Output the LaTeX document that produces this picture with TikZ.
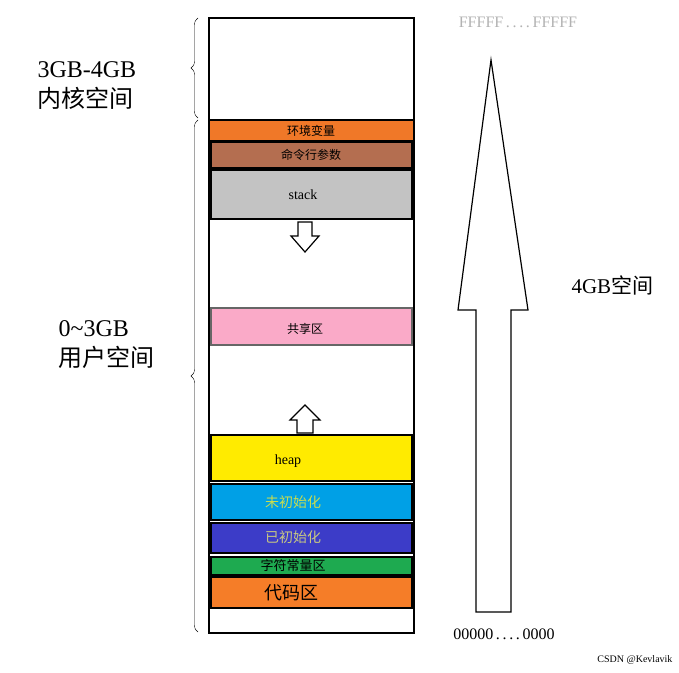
\documentclass[tikz,border=0pt]{standalone}
\usepackage{fontspec}
\setmainfont{Liberation Serif}
\newfontfamily\cjk{Noto Sans CJK SC}
\usetikzlibrary{decorations.pathreplacing}
\begin{document}
\begin{tikzpicture}[x=1pt,y=-1pt,
  blk/.style={draw=black,line width=1.5pt},
  lbl/.style={font=\cjk\fontsize{12}{12}\selectfont},
  big/.style={font=\fontsize{24}{30}\selectfont,align=left,anchor=west},
  hol/.style={draw=black,line width=1.2pt,fill=white}]
\useasboundingbox (0,0) rectangle (679,672);
\draw[line width=1.5pt] (209,18) rectangle (414,633);
\fill[blk,fill={rgb,255:red,240;green,120;blue,40}] (209,120) rectangle (414,141);
\node[lbl] (env) at (311,131) {环境变量};
\draw[blk,fill={rgb,255:red,180;green,110;blue,80}] (211,142) rectangle (412,168);
\node[lbl] (cmd) at (311,155) {命令行参数};
\draw[blk,fill={rgb,255:red,195;green,195;blue,195}] (211,170) rectangle (412,219);
\node[font=\fontsize{14}{14}\selectfont] (stk) at (303,195) {stack};
\draw[hol] (298,222) -- (312,222) -- (312,236) -- (319,236) -- (305,252) -- (291,236) -- (298,236) -- cycle;
\draw[blk,draw=black!60,fill={rgb,255:red,250;green,170;blue,200}] (211,308) rectangle (412,345);
\node[lbl] (shr) at (305,329) {共享区};
\draw[hol] (305,405) -- (320,420) -- (313,420) -- (313,433) -- (297,433) -- (297,420) -- (290,420) -- cycle;
\draw[blk,fill={rgb,255:red,255;green,235;blue,0}] (211,435) rectangle (412,481);
\node[font=\fontsize{14}{14}\selectfont] (heap) at (288,461) {heap};
\draw[blk,fill={rgb,255:red,0;green,160;blue,230}] (211,484) rectangle (412,520);
\node[lbl,font=\cjk\fontsize{14}{14}\selectfont,text={rgb,255:red,200;green,220;blue,80}] (bss) at (293,502) {未初始化};
\draw[blk,fill={rgb,255:red,60;green,60;blue,200}] (211,523) rectangle (412,553);
\node[lbl,font=\cjk\fontsize{14}{14}\selectfont,text={rgb,255:red,200;green,200;blue,130}] (data) at (293,537) {已初始化};
\draw[blk,fill={rgb,255:red,30;green,170;blue,80}] (211,557) rectangle (412,575);
\node[lbl,font=\cjk\fontsize{13}{13}\selectfont] (str) at (293,566) {字符常量区};
\draw[blk,fill={rgb,255:red,245;green,125;blue,40}] (211,577) rectangle (412,608);
\node[lbl,font=\cjk\fontsize{18}{18}\selectfont] (code) at (291,593) {代码区};
\draw[line width=1.2pt] (491,60) -- (528,310) -- (511,310) -- (511,612) -- (476,612) -- (476,310) -- (458,310) -- cycle;
\draw[decorate,decoration={brace,amplitude=7pt}] (198,118) -- (198,18);
\draw[decorate,decoration={brace,amplitude=7pt}] (198,632) -- (198,120);
\node[big] (k) at (34,86) {3GB-4GB\\{\cjk 内核空间}};
\node[big] (u) at (55,345) {0\textasciitilde3GB\\{\cjk 用户空间}};
\node[big,font=\fontsize{21}{21}\selectfont] (g4) at (568,285) {4GB{\cjk 空间}};
\node[font=\fontsize{16}{16}\selectfont,text=black!30] (ff) at (518,22) {FFFFF\,.\,.\,.\,.\,FFFFF};
\node[font=\fontsize{16}{16}\selectfont] (zz) at (504,634) {00000\,.\,.\,.\,.\,0000};
\node[font=\fontsize{10}{10}\selectfont,anchor=east] (csdn) at (676,660) {CSDN @Kevlavik};
\end{tikzpicture}
\end{document}
